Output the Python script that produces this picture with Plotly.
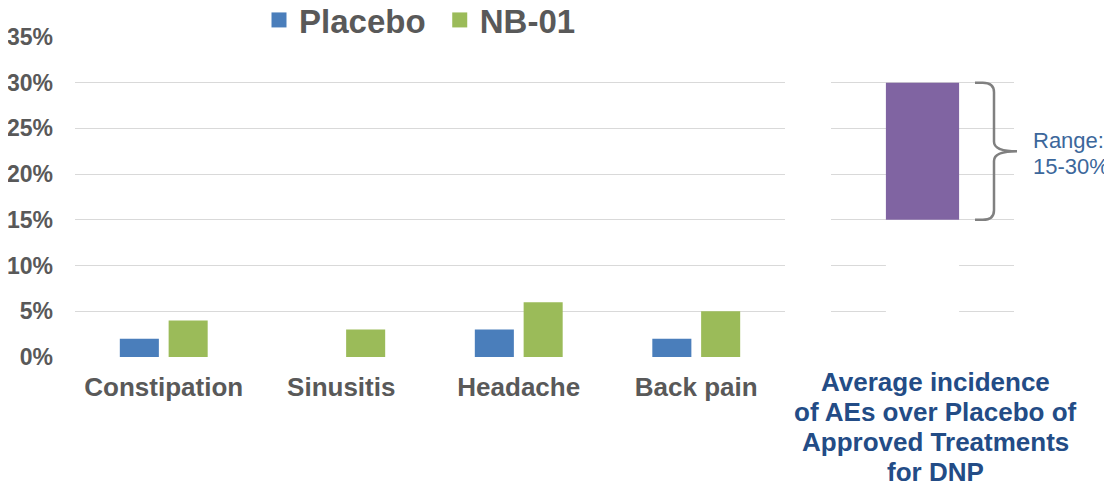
import plotly.graph_objects as go

# ---- data ----
categories = ["Constipation", "Sinusitis", "Headache", "Back pain"]
placebo = [2, 0, 3, 2]
nb01 = [4, 3, 6, 5]
series_names = ["Placebo", "NB-01"]
approved_category = ["DNP"]
approved_label_lines = ["Average incidence", "of AEs over Placebo of",
                        "Approved Treatments", "for DNP"]
approved_range = [15, 30]          # low, high (%)
range_text_lines = ["Range:", "15-30%"]
y_ticks = [0, 5, 10, 15, 20, 25, 30, 35]
y_tick_labels = ["0%", "5%", "10%", "15%", "20%", "25%", "30%", "35%"]

# ---- style ----
BLUE = "#4A7EBB"
GREEN = "#9BBB59"
PURPLE = "#8064A2"
GREY_TXT = "#595959"
GRID = "#D9D9D9"
NAVY = "#234C86"
RANGE_BLUE = "#3C679B"
FONT = "Liberation Sans, Arial, sans-serif"

OFF = 8  # page body margin
W, H = 1104, 481
# desired page-pixel layout
P_LEFT, P_TOP, P_BOTTOM, P_RIGHT = 75, 37, 356.7, 1014
P_LEFT_END, P_RIGHT_START = 785, 831

ML = P_LEFT - OFF
MT = P_TOP - OFF
MB = H - (P_BOTTOM - OFF)
MR = W - (P_RIGHT - OFF)
plot_w = P_RIGHT - P_LEFT
plot_h = P_BOTTOM - P_TOP
ymax = y_ticks[-1]

def px_x(px):  # page px -> paper x
    return (px - P_LEFT) / plot_w

def px_y(py):  # page px -> paper y
    return (P_BOTTOM - py) / plot_h

def val_y(v):
    return v / ymax

fig = go.Figure()

fig.add_trace(go.Bar(x=categories, y=placebo, name=series_names[0],
                     marker=dict(color=BLUE, line=dict(width=0)),
                     showlegend=False, xaxis="x", yaxis="y"))
fig.add_trace(go.Bar(x=categories, y=nb01, name=series_names[1],
                     marker=dict(color=GREEN, line=dict(width=0)),
                     showlegend=False, xaxis="x", yaxis="y"))

# legend proxies (square markers)
fig.add_trace(go.Scatter(x=[None], y=[None], mode="markers",
                         name=f"<b>{series_names[0]}</b>&nbsp;",
                         marker=dict(symbol="square", size=15, color=BLUE),
                         xaxis="x", yaxis="y"))
fig.add_trace(go.Scatter(x=[None], y=[None], mode="markers",
                         name=f"<b>{series_names[1]}</b>",
                         marker=dict(symbol="square", size=15, color=GREEN),
                         xaxis="x", yaxis="y"))

# right panel: floating bar (white base hides gridlines below the range)
low, high = approved_range
fig.add_trace(go.Bar(x=approved_category, y=[low], base=[0], width=[0.4],
                     offsetgroup="r",
                     marker=dict(color="white", line=dict(width=0)),
                     showlegend=False, hoverinfo="skip", xaxis="x2", yaxis="y2"))
fig.add_trace(go.Bar(x=approved_category, y=[high - low], base=[low], width=[0.4],
                     offsetgroup="r",
                     marker=dict(color=PURPLE, line=dict(width=0)),
                     showlegend=False, xaxis="x2", yaxis="y2"))

# bracket
x0 = px_x(975)
x1 = px_x(994)
x2 = px_x(1017)
yt = val_y(high)
yb = val_y(low)
ym = (yt + yb) / 2
d = 0.03
e = 0.012
path = (f"M {x0},{yt} L {x1-e},{yt} Q {x1},{yt} {x1},{yt-d} "
        f"L {x1},{ym+d} Q {x1},{ym} {x2},{ym} Q {x1},{ym} {x1},{ym-d} "
        f"L {x1},{yb+d} Q {x1},{yb} {x1-e},{yb} L {x0},{yb}")
fig.add_shape(type="path", path=path, xref="paper", yref="paper",
              line=dict(color="#808080", width=2.5))

annotations = []
# range text
for i, t in enumerate(range_text_lines):
    annotations.append(dict(text=t, xref="paper", yref="paper",
                            x=px_x(1031), y=px_y(140 + i * 26),
                            xanchor="left", yanchor="middle", showarrow=False,
                            font=dict(family=FONT, size=22, color=RANGE_BLUE)))
# right category label
for i, t in enumerate(approved_label_lines):
    annotations.append(dict(text=f"<b>{t}</b>", xref="paper", yref="paper",
                            x=px_x(935), y=px_y(382 + i * 30),
                            xanchor="center", yanchor="middle", showarrow=False,
                            font=dict(family=FONT, size=26, color=NAVY)))

fig.update_layout(
    width=W, height=H,
    margin=dict(l=ML, r=MR, t=MT, b=MB, autoexpand=False),
    paper_bgcolor="white", plot_bgcolor="white",
    barmode="group", bargap=0.45, bargroupgap=0.2,
    font=dict(family=FONT, color=GREY_TXT),
    showlegend=True,
    legend=dict(orientation="h", x=px_x(420), y=px_y(20), xanchor="center", yanchor="middle",
                bgcolor="white", itemsizing="trace",
                font=dict(family=FONT, size=33, color=GREY_TXT),
                tracegroupgap=0),
    xaxis=dict(domain=[0, px_x(P_LEFT_END)], anchor="y", showgrid=False, zeroline=False,
               showline=False, ticks="", ticklabelstandoff=12,
               tickfont=dict(family=FONT, size=26, color=GREY_TXT),
               tickprefix="<b>", ticksuffix="</b>"),
    yaxis=dict(range=[0, ymax], tickvals=y_ticks, ticktext=[f"<b>{t}</b>" for t in y_tick_labels],
               showgrid=True, gridcolor=GRID, gridwidth=1, zeroline=False,
               showline=False, ticks="", ticklabelstandoff=21,
               tickfont=dict(family=FONT, size=23, color=GREY_TXT), anchor="x"),
    xaxis2=dict(domain=[px_x(P_RIGHT_START), 1], anchor="y2", showgrid=False, zeroline=False,
                showline=False, showticklabels=False, range=[-0.5, 0.5]),
    yaxis2=dict(range=[0, ymax], tickvals=y_ticks, showgrid=True, gridcolor=GRID,
                gridwidth=1, zeroline=False, showline=False, showticklabels=False,
                anchor="x2", ticks=""),
    annotations=annotations,
)

fig.write_html("out.html")
